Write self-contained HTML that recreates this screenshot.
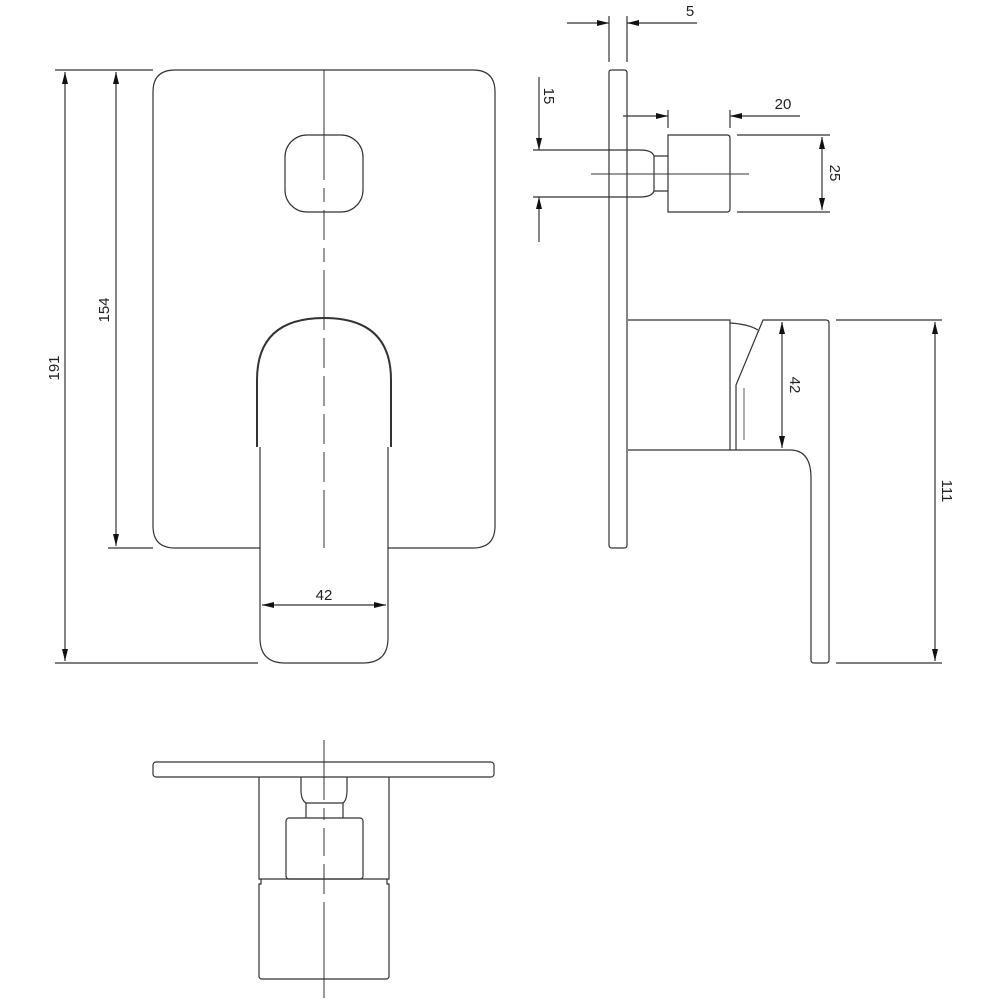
<!DOCTYPE html>
<html><head><meta charset="utf-8"><style>
html,body{margin:0;padding:0;background:#fff;}
svg{display:block;}
text{font-family:"Liberation Sans",sans-serif;font-size:15px;fill:#222;}
</style></head><body>
<svg width="1000" height="1000" viewBox="0 0 1000 1000" xmlns="http://www.w3.org/2000/svg">
<defs>
<marker id="a" viewBox="0 0 12 6" refX="12" refY="3" markerWidth="12" markerHeight="6" orient="auto-start-reverse" markerUnits="userSpaceOnUse"><path d="M0,0 L12,3 L0,6 z" fill="#111"/></marker>
</defs>
<g fill="none" stroke="#333" stroke-width="1.2">
<!-- FRONT VIEW -->
<path d="M260,548 L175,548 Q153,548 153,526 L153,92 Q153,70 175,70 L473,70 Q495,70 495,92 L495,526 Q495,548 473,548 L388,548"/>
<rect x="285" y="135" width="78" height="77" rx="22"/>
<path d="M257,447 L257,380 Q257,318 324,318 Q391,318 391,380 L391,447" stroke-width="2"/>
<path d="M260,447 L260,638 Q260,663 285,663 L363,663 Q388,663 388,638 L388,447"/>
<path d="M324,70 V548" stroke-width="1" stroke-dasharray="110,8,14,8,30,8,14,8,60,8,30,8,30,8,30,8,30,8,200"/>
<!-- dims front -->
<path d="M55,70 H153 M55,663 H258 M108,548 H153"/>
<path d="M65,72 V661" marker-start="url(#a)" marker-end="url(#a)"/>
<path d="M116,72 V546" marker-start="url(#a)" marker-end="url(#a)"/>
<path d="M262,605 H386" marker-start="url(#a)" marker-end="url(#a)"/>

<!-- SIDE VIEW -->
<path d="M609,72 Q609,70 612,70 L624,70 Q627,70 627,73 L627,545 Q627,548 624,548 L612,548 Q609,548 609,545 Z"/>
<path d="M533,150 H640 Q652,150 654,156 M533,197 H640 Q652,197 654,191 M654,156 V191 M654,156 H668 M654,191 H668"/>
<path d="M668,135 H727 Q730,135 730,138 V209 Q730,212 727,212 H668 Z"/>
<path d="M591,174 H749" stroke-width="1"/>
<path d="M628,320 H730 V450 H628 M730,323 V450 H736 M730,323 Q748,324 758,330"/>
<path d="M736,450 V385 L763,320 H826 Q829,320 829,323 V660 Q829,663 826,663 H814 Q811,663 811,660 V478 Q811,450 790,450 H736"/>
<path d="M744,388 V440" stroke-width="0.8"/>
<!-- side dims -->
<path d="M609,16 V62 M627,16 V62"/>
<path d="M567,23 H609" marker-end="url(#a)"/>
<path d="M697,23 H627" marker-end="url(#a)"/>
<path d="M668,110 V128 M730,110 V128"/>
<path d="M623,116 H668" marker-end="url(#a)"/>
<path d="M800,116 H730" marker-end="url(#a)"/>
<path d="M737,135 H830 M737,212 H830"/>
<path d="M822,137 V210" marker-start="url(#a)" marker-end="url(#a)"/>
<path d="M539,77 V150" marker-end="url(#a)"/>
<path d="M539,242 V197" marker-end="url(#a)"/>
<path d="M782,322 V448" marker-start="url(#a)" marker-end="url(#a)"/>
<path d="M836,320 H942 M836,663 H942"/>
<path d="M935,322 V661" marker-start="url(#a)" marker-end="url(#a)"/>

<!-- BOTTOM VIEW -->
<rect x="153" y="762" width="341" height="15" rx="3"/>
<path d="M259,777 V879 H389 V777"/>
<path d="M261,879 V884 H259 V976 Q259,979 262,979 H386 Q389,979 389,976 V884 H387 V879"/>
<path d="M301,777 V790 Q301,800 306,803 H343 Q347,800 347,790 V777"/>
<path d="M306,803 V818 M343,803 V818"/>
<rect x="286" y="818" width="77" height="61" rx="3"/>
<path d="M324,740 V998" stroke-width="1" stroke-dasharray="60,8,12,8,28,8,30,8,200"/>
</g>
<text x="690" y="16" text-anchor="middle">5</text>
<text x="783" y="109" text-anchor="middle">20</text>
<text x="324" y="600" text-anchor="middle">42</text>
<text transform="translate(59,368) rotate(-90)" text-anchor="middle">191</text>
<text transform="translate(109,310) rotate(-90)" text-anchor="middle">154</text>
<text transform="translate(544,96) rotate(90)" text-anchor="middle">15</text>
<text transform="translate(830,173) rotate(90)" text-anchor="middle">25</text>
<text transform="translate(790,385) rotate(90)" text-anchor="middle">42</text>
<text transform="translate(942,491) rotate(90)" text-anchor="middle">111</text>
</svg>
</body></html>
